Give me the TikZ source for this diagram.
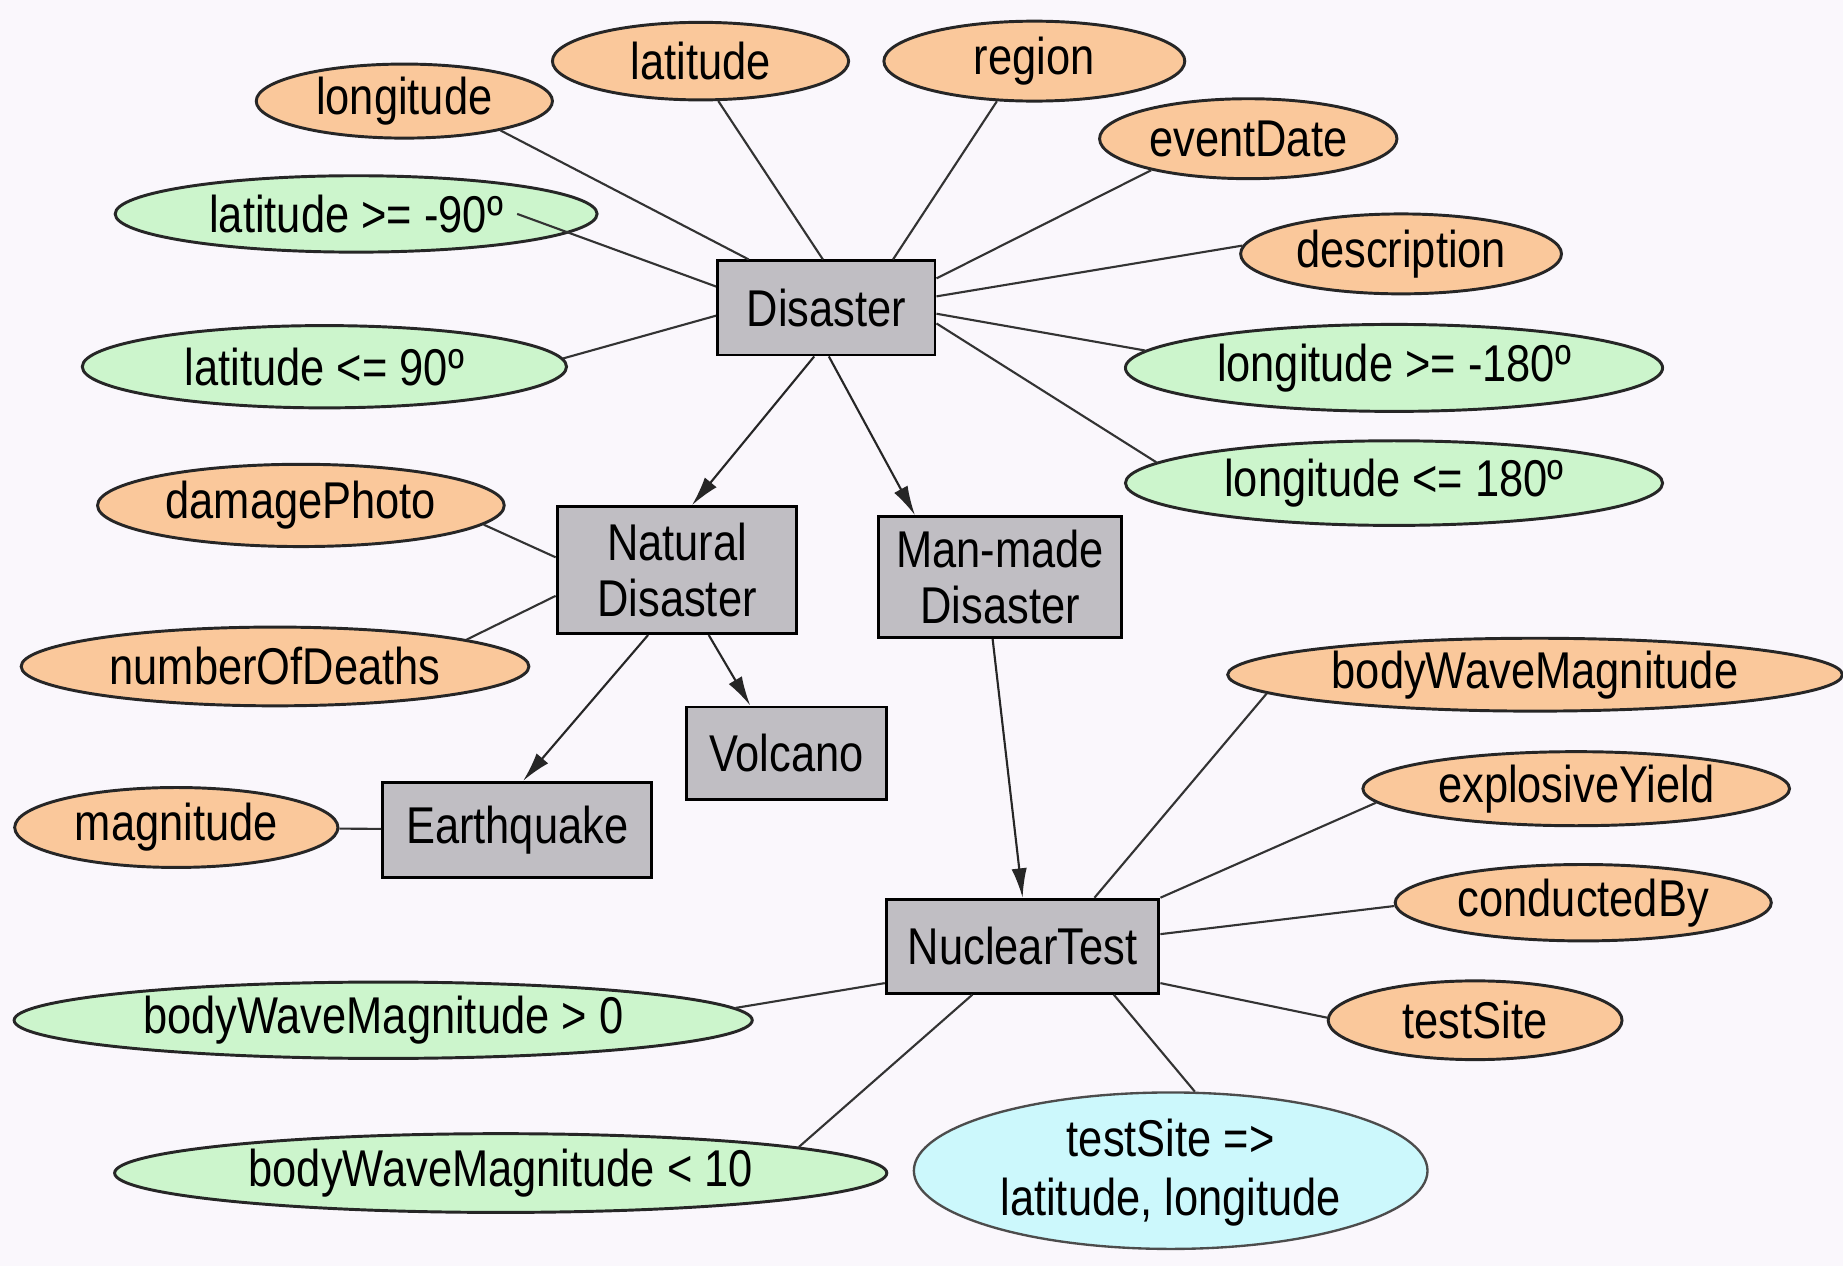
\documentclass[tikz,border=0pt]{standalone}
\usepackage{fontspec}
\setmainfont{Liberation Sans}[FakeStretch=0.84]
\usetikzlibrary{shapes.geometric,arrows.meta}
\definecolor{bgc}{RGB}{250,247,252}
\definecolor{attrc}{RGB}{250,200,155}
\definecolor{consc}{RGB}{204,245,204}
\definecolor{rulec}{RGB}{204,248,252}
\definecolor{clsc}{RGB}{192,190,195}
\begin{document}
\begin{tikzpicture}[x=1pt,y=-1pt,
  every node/.style={font=\fontsize{44}{47}\selectfont, inner sep=0pt},
  attr/.style={ellipse, draw=black!85, line width=2.5pt, fill=attrc},
  cons/.style={ellipse, draw=black!85, line width=2.5pt, fill=consc},
  rulenode/.style={ellipse, draw=black!70, line width=2pt, fill=rulec, align=center},
  cls/.style={rectangle, draw=black, line width=2.5pt, fill=clsc, align=center},
  link/.style={draw=black!80, line width=1.8pt},
  isa/.style={draw=black!85, line width=1.8pt, -{Latex[length=25pt,width=13pt]}}]

\fill[bgc] (0,0) rectangle (1568,1077);
\useasboundingbox (0,0) rectangle (1568,1077);

% classes
\node[cls, minimum width=185pt, minimum height=80pt] (dis) at (703,262) {Disaster};
\node[cls, minimum width=204pt, minimum height=108pt] (nat) at (576,485) {Natural\\Disaster};
\node[cls, minimum width=207pt, minimum height=103pt] (man) at (851,491) {Man-made\\Disaster};
\node[cls, minimum width=170pt, minimum height=79pt] (vol) at (669,641) {Volcano};
\node[cls, minimum width=229pt, minimum height=81pt] (eq) at (440,706) {Earthquake};
\node[cls, minimum width=232pt, minimum height=80pt] (nt) at (870,805) {NuclearTest};

% attributes
\node[attr, minimum width=252pt, minimum height=63pt] (lon) at (344,86) {longitude};
\node[attr, minimum width=252pt, minimum height=66pt] (lat) at (596,52) {latitude};
\node[attr, minimum width=256pt, minimum height=68pt] (reg) at (880,52) {region};
\node[attr, minimum width=253pt, minimum height=68pt] (evd) at (1062,118) {eventDate};
\node[attr, minimum width=273pt, minimum height=68pt] (desc) at (1192,216) {description};
\node[attr, minimum width=346pt, minimum height=70pt] (dmg) at (256,430) {damagePhoto};
\node[attr, minimum width=432pt, minimum height=67pt] (nod) at (234,567) {numberOfDeaths};
\node[attr, minimum width=275pt, minimum height=68pt] (mag) at (150,704) {magnitude};
\node[attr, minimum width=523pt, minimum height=62pt] (bwm) at (1306,574) {bodyWaveMagnitude};
\node[attr, minimum width=363pt, minimum height=63pt] (ey) at (1341,671) {explosiveYield};
\node[attr, minimum width=320pt, minimum height=65pt] (cb) at (1347,768) {conductedBy};
\node[attr, minimum width=250pt, minimum height=67pt] (ts) at (1255,868) {testSite};

% constraints
\node[cons, minimum width=410pt, minimum height=65pt] (latmin) at (303,182) {latitude >= -90º};
\node[cons, minimum width=412pt, minimum height=70pt] (latmax) at (276,312) {latitude <= 90º};
\node[cons, minimum width=457pt, minimum height=74pt] (lonmin) at (1186,313) {longitude >= -180º};
\node[cons, minimum width=457pt, minimum height=72pt] (lonmax) at (1186,411) {longitude <= 180º};
\node[cons, minimum width=628pt, minimum height=65pt] (bwmA) at (326,868) {bodyWaveMagnitude > 0};
\node[cons, minimum width=657pt, minimum height=67pt] (bwmB) at (426,998) {bodyWaveMagnitude < 10};

% rule
\node[rulenode, minimum width=437pt, minimum height=128pt, font=\fontsize{44}{50}\selectfont] (tsr) at (996,996) {\strut testSite =>\\latitude, longitude};

% links of Disaster
\draw[link] (lon.-17) -- (dis.148);
\draw[link] (lat.-66) -- (dis.94);
\draw[link] (reg.-133) -- (dis.36);
\draw[link] (evd.-162) -- (dis.15);
\draw[link] (desc.177) -- (dis.6);
\draw[link] (lonmin.176) -- (dis.-3);
\draw[link] (lonmax.175) -- (dis.-8);
\draw[link] ([xshift=137pt]latmin.center) -- (dis.169);
\draw[link] (latmax.2) -- (dis.-176);

% subclass arrows
\draw[isa] (dis.-104) -- (nat.77);
\draw[isa] (dis.-87) -- (man.144);
\draw[isa] (nat.-114) -- (eq.83);
\draw[isa] (nat.-64) -- (vol.127);
\draw[isa] (man.-97) -- (nt.90);

% links of Natural Disaster / Earthquake
\draw[link] (dmg.-6) -- (nat.174);
\draw[link] (nod.8) -- (nat.-168);
\draw[link] (mag) -- (eq);

% links of NuclearTest
\draw[link] (bwm.-176) -- (nt.34);
\draw[link] (ey.-176) -- (nt.north east);
\draw[link] (cb.181) -- (nt.5);
\draw[link] (ts.179) -- (nt.-15);
\draw[link] (bwmA.2) -- (nt.-165);
\draw[link] (bwmB.5) -- (nt.-136);
\draw[link] (tsr.73) -- (nt.-28);
\end{tikzpicture}
\end{document}
